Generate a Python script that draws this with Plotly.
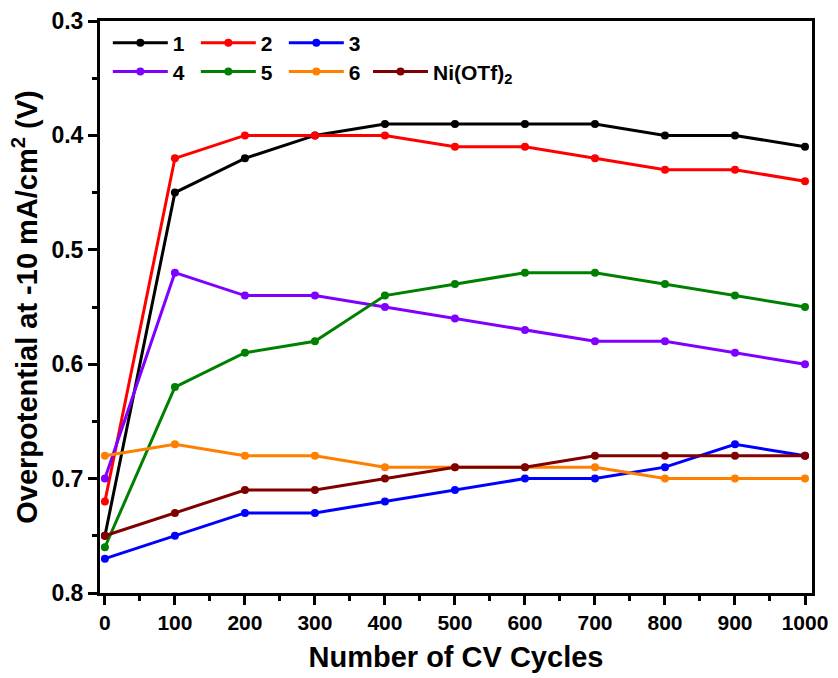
import plotly.graph_objects as go

cycles = [0, 100, 200, 300, 400, 500, 600, 700, 800, 900, 1000]
s1 = [0.75, 0.45, 0.42, 0.40, 0.39, 0.39, 0.39, 0.39, 0.40, 0.40, 0.41]
s2 = [0.72, 0.42, 0.40, 0.40, 0.40, 0.41, 0.41, 0.42, 0.43, 0.43, 0.44]
s3 = [0.77, 0.75, 0.73, 0.73, 0.72, 0.71, 0.70, 0.70, 0.69, 0.67, 0.68]
s4 = [0.70, 0.52, 0.54, 0.54, 0.55, 0.56, 0.57, 0.58, 0.58, 0.59, 0.60]
s5 = [0.76, 0.62, 0.59, 0.58, 0.54, 0.53, 0.52, 0.52, 0.53, 0.54, 0.55]
s6 = [0.68, 0.67, 0.68, 0.68, 0.69, 0.69, 0.69, 0.69, 0.70, 0.70, 0.70]
sni = [0.75, 0.73, 0.71, 0.71, 0.70, 0.69, 0.69, 0.68, 0.68, 0.68, 0.68]

names = ["1", "2", "3", "4", "5", "6", "Ni(OTf)<sub>2</sub>"]
series = [s1, s2, s3, s4, s5, s6, sni]
colors = ["#000000", "#FF0000", "#0000FF", "#8000FF", "#008000", "#FF8000", "#800000"]
legends = ["legend", "legend", "legend", "legend2", "legend2", "legend2", "legend3"]

fig = go.Figure()
for name, ys, c, lg in zip(names, series, colors, legends):
    fig.add_trace(go.Scatter(
        x=cycles, y=ys, name=name, mode="lines+markers",
        line=dict(color=c, width=3), marker=dict(color=c, size=8),
        legend=lg,
    ))

FAM = "Liberation Sans, Arial"
tickfont_y = dict(family=FAM, size=23, color="black", weight="bold")
tickfont_x = dict(family=FAM, size=21, color="black", weight="bold")
legfont = dict(family=FAM, size=21, color="black", weight="bold")

def leg(x, y, ew=18):
    d = dict(orientation="h", x=x, y=y, xanchor="left", yanchor="top",
             itemwidth=55, bgcolor="rgba(0,0,0,0)", font=legfont, tracegroupgap=0)
    if ew:
        d.update(entrywidth=ew, entrywidthmode="pixels")
    return d

fig.update_layout(
    width=838, height=678,
    margin=dict(l=100, r=26, t=21, b=85),
    plot_bgcolor="white", paper_bgcolor="white",
    xaxis=dict(
        range=[-7, 1010], tickvals=cycles, ticks="outside", ticklen=9, tickwidth=3,
        tickcolor="black", showline=True, linewidth=3, linecolor="black", mirror=True,
        showgrid=False, zeroline=False, tickfont=tickfont_x, automargin=False,
        minor=dict(ticks="outside", ticklen=5, tickwidth=3, tickcolor="black", dtick=50, tick0=0, showgrid=False),
        title=dict(text="Number of CV Cycles", standoff=14,
                   font=dict(family=FAM, size=29, color="black", weight="bold")),
    ),
    yaxis=dict(
        range=[0.8, 0.3], tickvals=[0.3, 0.4, 0.5, 0.6, 0.7, 0.8], ticktext=["0.3", "0.4", "0.5", "0.6", "0.7", "0.8"],
        ticks="outside", ticklen=9, tickwidth=3, tickcolor="black",
        showline=True, linewidth=3, linecolor="black", mirror=True,
        showgrid=False, zeroline=False, tickfont=tickfont_y, automargin=False,
        minor=dict(ticks="outside", ticklen=5, tickwidth=3, tickcolor="black", dtick=0.05, tick0=0.3, showgrid=False),
        title=dict(text="Overpotential at -10 mA/cm<sup>2</sup> (V)", standoff=6,
                   font=dict(family=FAM, size=29, color="black", weight="bold")),
    ),
    legend=leg(0.011, 0.997),
    legend2=leg(0.011, 0.947),
    legend3=leg(0.3764, 0.947, ew=None),
)

fig.write_html("out.html")
